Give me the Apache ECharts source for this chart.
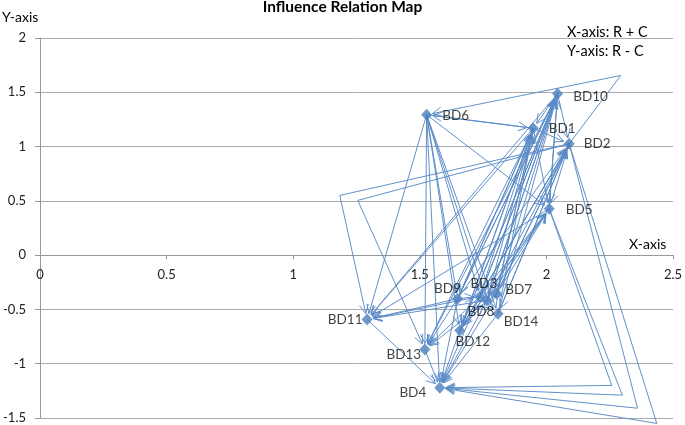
<!DOCTYPE html>
<html><head><meta charset="utf-8">
<script src="https://cdn.jsdelivr.net/npm/echarts@6/dist/echarts.min.js"></script>
<style>html,body{margin:0;padding:0;background:#fff}#c{width:685px;height:425px}</style>
</head><body><div id="c"></div>
<script>
// ---- data ----
const names   = ['BD1','BD2','BD3','BD4','BD5','BD6','BD7','BD8','BD9','BD10','BD11','BD12','BD13','BD14'];
const xValues = [1.948, 2.090, 1.737, 1.579, 2.011, 1.527, 1.804, 1.765, 1.649, 2.044, 1.292, 1.658, 1.520, 1.809];
const yValues = [1.169, 1.026, -0.380, -1.221, 0.427, 1.293, -0.355, -0.417, -0.402, 1.486, -0.592, -0.693, -0.868, -0.540];

// direct influence arrows [from, to]
const edges = [
  ['BD6','BD1'],['BD6','BD5'],['BD6','BD11'],['BD6','BD13'],['BD6','BD4'],['BD6','BD12'],['BD6','BD9'],['BD6','BD8'],['BD6','BD14'],['BD6','BD3'],
  ['BD1','BD6'],
  ['BD3','BD10'],['BD7','BD10'],['BD8','BD10'],['BD9','BD10'],['BD14','BD10'],['BD12','BD10'],['BD5','BD10'],
  ['BD3','BD1'],['BD7','BD1'],['BD8','BD1'],['BD9','BD1'],['BD14','BD1'],['BD12','BD1'],
  ['BD3','BD2'],['BD7','BD2'],['BD8','BD2'],['BD9','BD2'],['BD14','BD2'],['BD12','BD2'],
  ['BD3','BD5'],['BD8','BD5'],['BD7','BD5'],['BD12','BD5'],
  ['BD10','BD1'],['BD10','BD2'],['BD1','BD2'],['BD10','BD5'],['BD1','BD5'],['BD2','BD5'],
  ['BD10','BD11'],['BD1','BD11'],['BD5','BD11'],['BD3','BD11'],['BD8','BD11'],['BD9','BD11'],
  ['BD10','BD13'],['BD1','BD13'],['BD3','BD13'],['BD9','BD13'],['BD7','BD13'],
  ['BD10','BD12'],['BD1','BD12'],['BD2','BD12'],['BD5','BD12'],
  ['BD11','BD4'],['BD13','BD4'],['BD12','BD4'],['BD14','BD4'],['BD8','BD4'],['BD3','BD4'],['BD9','BD4'],['BD7','BD4'],
  ['BD9','BD3'],['BD7','BD8'],['BD3','BD14'],['BD12','BD8'],
  ['BD10','BD9'],['BD1','BD9'],['BD10','BD3'],['BD1','BD7'],['BD2','BD14'],['BD10','BD8'],['BD2','BD7']
];

// arrows routed through a bend point
const routedFrom  = ['BD2','BD2','BD2','BD5','BD5','BD2','BD2'];
const routedBendX = [2.294, 1.184, 1.255, 2.258, 2.300, 2.360, 2.436];
const routedBendY = [1.655, 0.550, 0.504, -1.200, -1.290, -1.410, -1.550];
const routedTo    = ['BD6','BD11','BD13','BD4','BD4','BD4','BD4'];

const xMin = 0, xMax = 2.5, xStep = 0.5;
const yMin = -1.5, yMax = 2, yStep = 0.5;
const xTickLabels = ['0','0.5','1','1.5','2','2.5'];
const xTickValues = [0, 0.5, 1, 1.5, 2, 2.5];

// ---- styles ----
const labelOffset = {
  BD10:[33,3], BD6:[29,1], BD1:[29,0], BD2:[28,0], BD5:[30,1],
  BD9:[-10,-10], BD3:[4,-13], BD7:[22,-4], BD8:[-6,11], BD14:[23,8],
  BD12:[13,11], BD13:[-21,5], BD4:[-27,5], BD11:[-22,0]
};
const blue = '#4A7EBB';
const lineBlue = '#5A8AC6';
const font = 'Lato';
const tipGap = 6, headLen = 9, headHalf = 4.5;

const pos = {};
names.forEach((n,i)=>{ pos[n] = [xValues[i], yValues[i]]; });

// segment rows: [x1, y1, x2, y2, withArrow]
const segRows = edges.map(e => [pos[e[0]][0], pos[e[0]][1], pos[e[1]][0], pos[e[1]][1], 1]);
routedFrom.forEach((f,i)=>{
  const bx = routedBendX[i], by = routedBendY[i];
  segRows.push([pos[f][0], pos[f][1], bx, by, 0]);
  segRows.push([bx, by, pos[routedTo[i]][0], pos[routedTo[i]][1], 1]);
});

function renderSeg(params, api){
  const a = api.coord([api.value(0), api.value(1)]);
  const b = api.coord([api.value(2), api.value(3)]);
  const arrow = api.value(4) === 1;
  const dx = b[0]-a[0], dy = b[1]-a[1];
  const L = Math.hypot(dx, dy) || 1;
  const ux = dx/L, uy = dy/L, nx = -uy, ny = ux;
  const style = {stroke: lineBlue, lineWidth: 1, fill: null, opacity: 0.95};
  if (!arrow) {
    return {type:'line', shape:{x1:a[0], y1:a[1], x2:b[0], y2:b[1]}, style};
  }
  const tx = b[0]-ux*tipGap, ty = b[1]-uy*tipGap;
  const bx = tx-ux*headLen, by = ty-uy*headLen;
  return {type:'group', children:[
    {type:'line', shape:{x1:a[0], y1:a[1], x2:tx, y2:ty}, style},
    {type:'polyline', shape:{points:[[bx+nx*headHalf, by+ny*headHalf],[tx,ty],[bx-nx*headHalf, by-ny*headHalf]]}, style}
  ]};
}

// x tick labels drawn under the zero line (the axis sits on y = 0)
function renderXTick(params, api){
  const p = api.coord([api.value(0), 0]);
  return {type:'text', x:p[0], y:p[1]+20,
    style:{text: xTickLabels[params.dataIndex], font:'13px '+font, fill:'#222', align:'center', verticalAlign:'middle'}};
}

const chart = echarts.init(document.getElementById('c'), null, {renderer:'canvas'});
chart.setOption({
  animation:false,
  backgroundColor:'#fff',
  textStyle:{fontFamily:font},
  title:{text:'Influence Relation Map', left:'center', top:-6,
    textStyle:{fontFamily:font, fontSize:15.5, fontWeight:'bold', color:'#000'}},
  graphic:[
    {type:'text', left:2, top:10, style:{text:'Y-axis', font:'14px '+font, fill:'#000'}},
    {type:'text', left:567, top:25, style:{text:'X-axis: R + C', font:'14.5px '+font, fill:'#000'}},
    {type:'text', left:567, top:44, style:{text:'Y-axis: R - C', font:'14.5px '+font, fill:'#000'}},
    {type:'text', left:629, top:237, style:{text:'X-axis', font:'14px '+font, fill:'#000'}}
  ],
  grid:{left:40, right:12, top:38, bottom:7, containLabel:false, outerBoundsMode:'none'},
  xAxis:{type:'value', min:xMin, max:xMax, interval:xStep,
    axisLine:{onZero:true, lineStyle:{color:'#999', width:1}},
    axisTick:{show:true, length:4, lineStyle:{color:'#999'}},
    axisLabel:{show:false},
    splitLine:{show:false}},
  yAxis:{type:'value', min:yMin, max:yMax, interval:yStep,
    axisLine:{show:true, onZero:false, lineStyle:{color:'#999', width:1}},
    axisTick:{show:true, length:5, lineStyle:{color:'#999'}},
    axisLabel:{color:'#222', fontSize:13, fontFamily:font, margin:14},
    splitLine:{show:true, lineStyle:{color:'#aaa', width:1}}},
  series:[
    {type:'custom', coordinateSystem:'cartesian2d', z:2, clip:false,
      renderItem:renderSeg,
      encode:{x:[0,2], y:[1,3]},
      data:segRows},
    {type:'custom', coordinateSystem:'cartesian2d', z:1, clip:false, silent:true,
      renderItem:renderXTick,
      encode:{x:0},
      data:xTickValues.map(v=>[v])},
    {type:'scatter', z:5, symbol:'diamond', symbolSize:[11,12],
      itemStyle:{color:blue},
      label:{show:true, position:'inside', color:'#111', fontSize:13.5, fontFamily:font,
        formatter:p=>p.data.name},
      data:names.map((n,i)=>({name:n, value:[xValues[i], yValues[i]],
        label:{offset:labelOffset[n]}}))}
  ]
});
</script></body></html>
